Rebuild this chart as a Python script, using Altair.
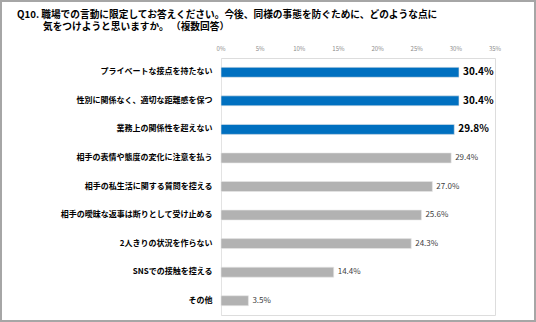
import altair as alt
import pandas as pd

categories = [
    "プライベートな接点を持たない",
    "性別に関係なく、適切な距離感を保つ",
    "業務上の関係性を超えない",
    "相手の表情や態度の変化に注意を払う",
    "相手の私生活に関する質問を控える",
    "相手の曖昧な返事は断りとして受け止める",
    "2人きりの状況を作らない",
    "SNSでの接触を控える",
    "その他",
]
values = [30.4, 30.4, 29.8, 29.4, 27.0, 25.6, 24.3, 14.4, 3.5]
highlight = [True, True, True, False, False, False, False, False, False]
x_ticks = [0, 5, 10, 15, 20, 25, 30, 35]
title_line1 = "Q10. 職場での言動に限定してお答えください。今後、同様の事態を防ぐために、どのような点に"
title_line2 = "気をつけようと思いますか。 （複数回答）"

FONT = "Noto Sans CJK JP"
df = pd.DataFrame({"cat": categories, "v": values, "top": highlight})
ticks_df = pd.DataFrame({"t": x_ticks})

x_scale = alt.Scale(domain=[0, 35], nice=False)

base = alt.Chart(df).transform_calculate(
    label="format(datum.v, '.1f') + '%'"
)

y_enc = alt.Y(
    "cat:N",
    sort=categories,
    scale=alt.Scale(paddingInner=0.65, paddingOuter=0.325),
    axis=alt.Axis(
        title=None, ticks=False, labelPadding=9, labelFontSize=8,
        labelFontWeight="bold", labelColor="#000000", labelFont=FONT,
        domainColor="#E3E3E3", domainWidth=1, labelLimit=250,
    ),
)

bars = base.mark_bar().encode(
    y=y_enc,
    x=alt.X("v:Q", scale=x_scale, axis=None),
    color=alt.Color("top:N", scale=alt.Scale(domain=[True, False], range=["#0070C0", "#B2B2B2"]), legend=None),
    stroke=alt.value("#E8E8E8"),
    strokeWidth=alt.value(0.6),
)

tick_labels = alt.Chart(ticks_df).transform_calculate(
    lab="datum.t + '%'"
).mark_text(
    align="center", baseline="middle", fontSize=6, font=FONT, color="#8C8C8C"
).encode(x=alt.X("t:Q", scale=x_scale, axis=None), y=alt.value(-9), text="lab:N")

lab_top = base.transform_filter("datum.top").mark_text(
    align="left", baseline="middle", dx=4, fontSize=10, fontWeight="bold", font=FONT, color="#000000"
).encode(y=alt.Y("cat:N", sort=categories), x="v:Q", text="label:N")

lab_rest = base.transform_filter("!datum.top").mark_text(
    align="left", baseline="middle", dx=4, fontSize=8, font=FONT, color="#404040"
).encode(y=alt.Y("cat:N", sort=categories), x="v:Q", text="label:N")

one = pd.DataFrame({"a": [0]})
border = alt.Chart(one).mark_rect(
    fill=None, stroke="#A6A6A6", strokeWidth=2
).encode(
    x=alt.value(-220), x2=alt.value(314), y=alt.value(-57), y2=alt.value(263)
)

t1 = alt.Chart(one).mark_text(
    align="left", baseline="middle", font=FONT, fontSize=9.7, fontWeight="bold", color="#000000"
).encode(x=alt.value(-204), y=alt.value(-43), text=alt.value(title_line1))
t2 = alt.Chart(one).mark_text(
    align="left", baseline="middle", font=FONT, fontSize=9.7, fontWeight="bold", color="#000000"
).encode(x=alt.value(-178), y=alt.value(-31), text=alt.value(title_line2))

chart = alt.layer(bars, tick_labels, lab_top, lab_rest, border, t1, t2).properties(
    width=274,
    height=257,
    padding={"left": 221, "top": 58, "right": 41, "bottom": 7},
    autosize=alt.AutoSizeParams(type="none"),
).configure_view(stroke=None).configure(background="#FFFFFF")

chart.save("out.html", embed_options={"renderer": "svg", "actions": False})
